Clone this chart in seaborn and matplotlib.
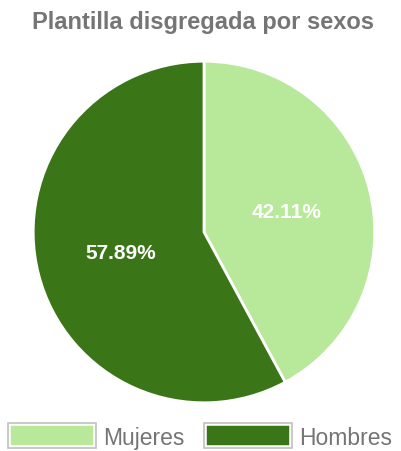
import matplotlib
matplotlib.use('Agg')
import matplotlib.pyplot as plt
import seaborn as sns
from matplotlib.patches import Patch
from matplotlib.legend_handler import HandlerTuple

categorias = ['Mujeres', 'Hombres']
porcentajes = [42.11, 57.89]
colores = ['#b8e99a', '#3a7618']
titulo = 'Plantilla disgregada por sexos'

sns.set_theme(style='white')
plt.rcParams['font.family'] = ['Liberation Sans', 'DejaVu Sans']

fig = plt.figure(figsize=(4.01, 4.52), dpi=100)
ax = fig.add_axes([(204 - 172.5) / 401, (219 - 172.5) / 452, 345 / 401, 345 / 452])

ax.pie(porcentajes, colors=colores, startangle=90, counterclock=False,
       autopct='%.2f%%', pctdistance=0.5,
       wedgeprops=dict(edgecolor='white', linewidth=2),
       textprops=dict(color='white', fontsize=15, fontweight='bold'))
ax.set_xlim(-1.01, 1.01)
ax.set_ylim(-1.01, 1.01)
ax.set_aspect('equal')

fig.text(203 / 401, 1 - 22 / 452, titulo, ha='center', va='center',
         fontsize=17, fontweight='bold', color='#757575')

# caja con borde gris y margen blanco
handles = [(Patch(facecolor=c, edgecolor='white', linewidth=4),
            Patch(facecolor='none', edgecolor='#c0c0c0', linewidth=1.2)) for c in colores]
fig.legend(handles, categorias, loc='center', bbox_to_anchor=(0.5, 15 / 452),
           ncol=2, frameon=False, fontsize=16.5, labelcolor='#757575',
           handler_map={tuple: HandlerTuple(ndivide=1, pad=0)},
           handlelength=3.8, handleheight=1.3, handletextpad=0.35, columnspacing=0.85,
           borderaxespad=0, borderpad=0)

fig.savefig('out.png', dpi=100)
